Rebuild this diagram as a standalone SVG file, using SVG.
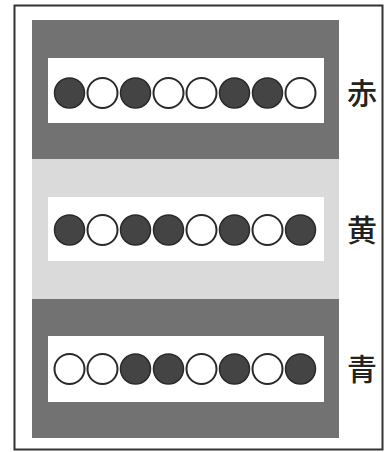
<svg xmlns="http://www.w3.org/2000/svg" width="387" height="452" viewBox="0 0 387 452">
<style>
.dark{fill:#727272}
.light{fill:#dadada}
.strip{fill:#ffffff}
.on{fill:#444444;stroke:#2a2a2a;stroke-width:1.5}
.off{fill:#ffffff;stroke:#2a2a2a;stroke-width:2}
.lbl{font-family:"Noto Sans CJK JP","Noto Sans CJK SC",sans-serif;font-size:30px;font-weight:500;fill:#222;text-anchor:middle}
</style>
<rect x="0" y="0" width="387" height="452" fill="#ffffff"/>
<rect x="14.5" y="5.5" width="368" height="444" fill="none" stroke="#333" stroke-width="2"/>
<g id="band-red">
<rect class="dark" x="32" y="20" width="307" height="139"/>
<rect class="strip" x="48" y="58" width="276" height="65"/>
<circle class="on" cx="69.5" cy="93" r="15"/>
<circle class="off" cx="102.5" cy="93" r="15"/>
<circle class="on" cx="135.5" cy="93" r="15"/>
<circle class="off" cx="168.5" cy="93" r="15"/>
<circle class="off" cx="201.5" cy="93" r="15"/>
<circle class="on" cx="234.5" cy="93" r="15"/>
<circle class="on" cx="267.5" cy="93" r="15"/>
<circle class="off" cx="300.5" cy="93" r="15"/>
<text class="lbl" x="362" y="104">赤</text>
</g>
<g id="band-yellow">
<rect class="light" x="32" y="159" width="307" height="140"/>
<rect class="strip" x="48" y="197" width="276" height="64"/>
<circle class="on" cx="69.5" cy="230" r="15"/>
<circle class="off" cx="102.5" cy="230" r="15"/>
<circle class="on" cx="135.5" cy="230" r="15"/>
<circle class="on" cx="168.5" cy="230" r="15"/>
<circle class="off" cx="201.5" cy="230" r="15"/>
<circle class="on" cx="234.5" cy="230" r="15"/>
<circle class="off" cx="267.5" cy="230" r="15"/>
<circle class="on" cx="300.5" cy="230" r="15"/>
<text class="lbl" x="362" y="241">黄</text>
</g>
<g id="band-blue">
<rect class="dark" x="32" y="299" width="307" height="139"/>
<rect class="strip" x="48" y="336" width="276" height="66"/>
<circle class="off" cx="69.5" cy="369" r="15"/>
<circle class="off" cx="102.5" cy="369" r="15"/>
<circle class="on" cx="135.5" cy="369" r="15"/>
<circle class="on" cx="168.5" cy="369" r="15"/>
<circle class="off" cx="201.5" cy="369" r="15"/>
<circle class="on" cx="234.5" cy="369" r="15"/>
<circle class="off" cx="267.5" cy="369" r="15"/>
<circle class="on" cx="300.5" cy="369" r="15"/>
<text class="lbl" x="362" y="380">青</text>
</g>
</svg>
